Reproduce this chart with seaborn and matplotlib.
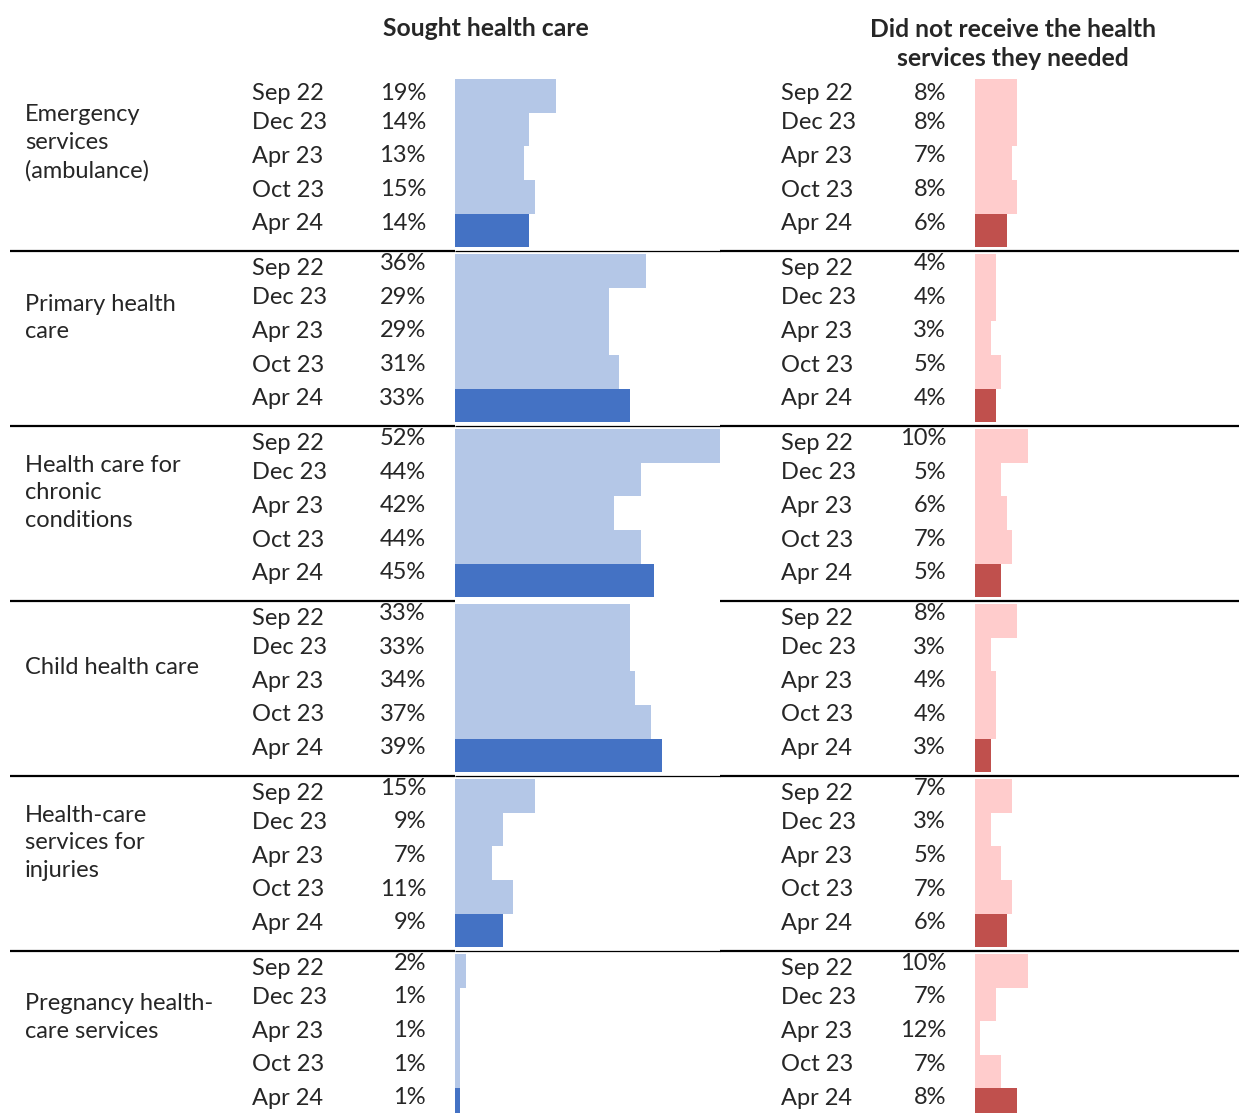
import matplotlib
matplotlib.use("Agg")
import matplotlib.pyplot as plt
import numpy as np
import pandas as pd
import seaborn as sns

# ---------------- data ----------------
categories = [
    "Emergency\nservices\n(ambulance)",
    "Primary health\ncare",
    "Health care for\nchronic\nconditions",
    "Child health care",
    "Health-care\nservices for\ninjuries",
    "Pregnancy health-\ncare services",
]
periods = ["Sep 22", "Dec 23", "Apr 23", "Oct 23", "Apr 24"]

# printed percentage labels
sought_labels = [
    [19, 14, 13, 15, 14],
    [36, 29, 29, 31, 33],
    [52, 44, 42, 44, 45],
    [33, 33, 34, 37, 39],
    [15, 9, 7, 11, 9],
    [2, 1, 1, 1, 1],
]
unmet_labels = [
    [8, 8, 7, 8, 6],
    [4, 4, 3, 5, 4],
    [10, 5, 6, 7, 5],
    [8, 3, 4, 4, 3],
    [7, 3, 5, 7, 6],
    [10, 7, 12, 7, 8],
]
# bar lengths as drawn in the picture
sought_bars = [
    [19, 14, 13, 15, 14],
    [36, 29, 29, 31, 33],
    [52, 35, 30, 35, 37.5],
    [33, 33, 34, 37, 39],
    [15, 9, 7, 11, 9],
    [2, 1, 1, 1, 1],
]
unmet_bars = [
    [8, 8, 7, 8, 6],
    [4, 4, 3, 5, 4],
    [10, 5, 6, 7, 5],
    [8, 3, 4, 4, 3],
    [7, 3, 5, 7, 6],
    [10, 4, 1, 5, 8],
]
title_left = "Sought health care"
title_right = "Did not receive the health\nservices they needed"

# ---------------- layout ----------------
W, H = 1239, 1113
DPI = 100
PITCH = 5.2  # group pitch in row units
rows = []
for g, cat in enumerate(categories):
    for r, per in enumerate(periods):
        rows.append(dict(group=g, row=r, pos=g * PITCH + r, period=per,
                         sought=sought_bars[g][r], unmet=unmet_bars[g][r],
                         s_lab=sought_labels[g][r], u_lab=unmet_labels[g][r],
                         kind="latest" if r == len(periods) - 1 else "past"))
df = pd.DataFrame(rows)

y_top = -0.5
y_bot = (len(categories) - 1) * PITCH + 4.5
top_px, unit_px = 79, 33.65
bot_px = top_px + (y_bot - y_top) * unit_px

def fy(px):
    return 1 - px / H

def fx(px):
    return px / W

sns.set_theme(style="white")
plt.rcParams["font.family"] = ["Lato", "DejaVu Sans"]
fs = 17
fs_title = 17.8

fig = plt.figure(figsize=(W / DPI, H / DPI), dpi=DPI)
ax_bottom = fy(bot_px)
ax_h = fy(top_px) - ax_bottom

bg = fig.add_axes([0, ax_bottom, 1, ax_h])
bg.set_xlim(0, W)
bg.set_ylim(y_bot, y_top)
bg.axis("off")

axL = fig.add_axes([fx(455), ax_bottom, fx(720) - fx(455), ax_h])
axR = fig.add_axes([fx(975), ax_bottom, fx(1239) - fx(975), ax_h])

sns.barplot(data=df, x="sought", y="pos", hue="kind", orient="h", native_scale=True,
            palette={"past": "#B4C7E7", "latest": "#4472C4"}, dodge=False,
            width=1.0, legend=False, ax=axL, linewidth=0, errorbar=None,
            saturation=1)
sns.barplot(data=df, x="unmet", y="pos", hue="kind", orient="h", native_scale=True,
            palette={"past": "#FFCCCC", "latest": "#C0504D"}, dodge=False,
            width=1.0, legend=False, ax=axR, linewidth=0, errorbar=None,
            saturation=1)

for ax in (axL, axR):
    ax.set_xlim(0, 50)
    ax.set_ylim(y_bot, y_top)
    ax.axis("off")

# text labels
for _, rw in df.iterrows():
    yp = rw["pos"] - (0.07 if rw["row"] == 0 else 0.2)
    if rw["group"] == 0 and rw["row"] == 0:
        yv = yp
    else:
        yv = rw["pos"] - 0.22
    bg.text(252, yp, rw["period"], ha="left", va="center", fontsize=fs)
    bg.text(426, yv, f"{rw['s_lab']}%", ha="right", va="center", fontsize=fs)
    bg.text(781, yp, rw["period"], ha="left", va="center", fontsize=fs)
    bg.text(946, yv, f"{rw['u_lab']}%", ha="right", va="center", fontsize=fs)

for g, cat in enumerate(categories):
    yc = g * PITCH + 1.4
    bg.text(25, yc, cat, ha="left", va="center", fontsize=fs, linespacing=1.4)

# separators between groups
for g in range(1, len(categories)):
    yl = g * PITCH - 0.6
    bg.plot([10, 455], [yl, yl], color="black", lw=1.6, solid_capstyle="butt")
    bg.plot([720, 1239], [yl, yl], color="black", lw=1.6, solid_capstyle="butt")
    if g != 3:
        bg.plot([455, 720], [yl, yl], color="black", lw=0.9, solid_capstyle="butt")

fig.text(fx(486), fy(29), title_left, ha="center", va="center", fontsize=fs_title,
         fontweight="bold")
fig.text(fx(1013), fy(44), title_right, ha="center", va="center", fontsize=fs_title,
         fontweight="bold", linespacing=1.3)

fig.savefig("out.png", dpi=DPI)
